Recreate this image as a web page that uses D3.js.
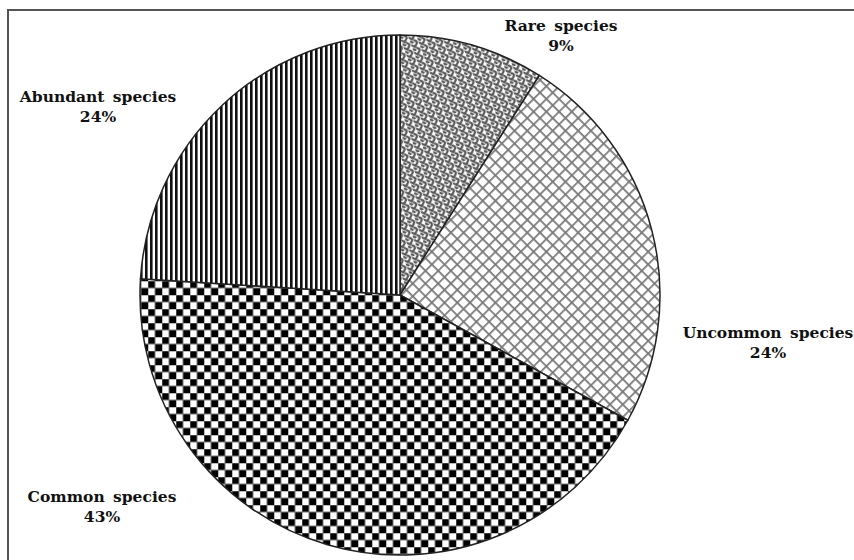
<!DOCTYPE html>
<html>
<head>
<meta charset="utf-8">
<script src="https://cdn.jsdelivr.net/npm/d3@7"></script>
<style>
  html, body { margin: 0; padding: 0; background: #fff; }
  svg { display: block; }
  .lbl { font-family: "DejaVu Serif", serif; font-weight: bold; font-size: 15.5px; fill: #111; }
</style>
</head>
<body>
<script>
const categories = ['Rare species', 'Uncommon species', 'Common species', 'Abundant species'];
const values = [9, 24, 43, 24];
const valueLabels = ['9%', '24%', '43%', '24%'];

const width = 854, height = 560;
const cx = 400, cy = 295, radius = 260;

// label anchor for each slice (centre of the text block, first baseline)
const labelPos = [[561, 31], [768, 338], [102, 502], [98, 102]];

const svg = d3.select('body').append('svg')
  .attr('width', width)
  .attr('height', height);

const defs = svg.append('defs');

// rare: small woven chevrons
const pRare = defs.append('pattern')
  .attr('id', 'p-rare').attr('patternUnits', 'userSpaceOnUse')
  .attr('width', 8).attr('height', 8)
  .attr('patternTransform', 'rotate(-20)');
pRare.append('rect').attr('width', 8).attr('height', 8).attr('fill', '#fff');
pRare.append('path')
  .attr('d', 'M0,1 L3,4 L7,0 M4,5 L7,8 M0,5 L3,8')
  .attr('fill', 'none').attr('stroke', '#555').attr('stroke-width', 2.2);

// uncommon: diagonal cross hatch
const pUnc = defs.append('pattern')
  .attr('id', 'p-unc').attr('patternUnits', 'userSpaceOnUse')
  .attr('width', 9).attr('height', 9)
  .attr('patternTransform', 'rotate(45)');
pUnc.append('rect').attr('width', 9).attr('height', 9).attr('fill', '#fff');
pUnc.append('path')
  .attr('d', 'M0,0.8 L9,0.8 M0.8,0 L0.8,9')
  .attr('stroke', '#777').attr('stroke-width', 1.8);

// common: checkerboard
const pCom = defs.append('pattern')
  .attr('id', 'p-com').attr('patternUnits', 'userSpaceOnUse')
  .attr('width', 14).attr('height', 14);
pCom.append('rect').attr('width', 14).attr('height', 14).attr('fill', '#fff');
pCom.append('rect').attr('width', 7).attr('height', 7).attr('fill', '#000');
pCom.append('rect').attr('x', 7).attr('y', 7).attr('width', 7).attr('height', 7).attr('fill', '#000');
pCom.append('path')
  .attr('d', 'M0,0 L14,0 M0,7 L14,7 M0,0 L0,14 M7,0 L7,14')
  .attr('stroke', '#777').attr('stroke-width', 1);

// abundant: vertical stripes
const pAbu = defs.append('pattern')
  .attr('id', 'p-abu').attr('patternUnits', 'userSpaceOnUse')
  .attr('width', 5).attr('height', 5);
pAbu.append('rect').attr('width', 5).attr('height', 5).attr('fill', '#fff');
pAbu.append('rect').attr('width', 2.6).attr('height', 5).attr('fill', '#111');

const fills = ['url(#p-rare)', 'url(#p-unc)', 'url(#p-com)', 'url(#p-abu)'];

// frame
svg.append('path')
  .attr('d', `M8,${height} L8,10 L${width},10`)
  .attr('fill', 'none').attr('stroke', '#555').attr('stroke-width', 2);

const pie = d3.pie().sort(null).value(d => d);
const arc = d3.arc().innerRadius(0).outerRadius(radius);

const g = svg.append('g').attr('transform', `translate(${cx},${cy})`);

g.selectAll('path.slice')
  .data(pie(values))
  .join('path')
  .attr('class', 'slice')
  .attr('d', arc)
  .attr('fill', (d, i) => fills[i])
  .attr('stroke', '#222')
  .attr('stroke-width', 1.5);

const labels = svg.selectAll('text.lbl')
  .data(categories)
  .join('text')
  .attr('class', 'lbl')
  .attr('text-anchor', 'middle')
  .attr('x', (d, i) => labelPos[i][0])
  .attr('y', (d, i) => labelPos[i][1]);

labels.append('tspan').style('word-spacing', '3px').text(d => d);
labels.append('tspan')
  .attr('x', (d, i) => labelPos[i][0])
  .attr('dy', 20)
  .text((d, i) => valueLabels[i]);
</script>
</body>
</html>
